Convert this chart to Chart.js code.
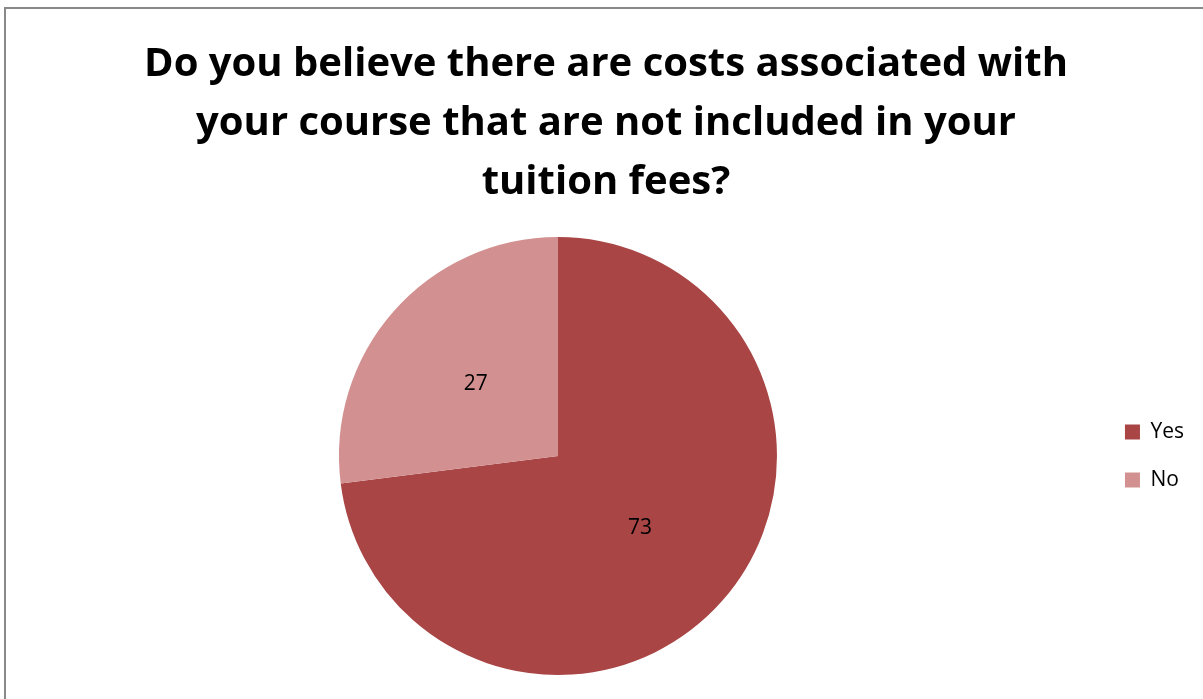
<!DOCTYPE html>
<html>
<head>
<meta charset="utf-8">
<script src="https://cdn.jsdelivr.net/npm/chart.js@4/dist/chart.umd.min.js"></script>
<style>
html,body{margin:0;padding:0;background:#fff;overflow:hidden;}
#wrap{position:absolute;left:0;top:0;width:1203px;height:699px;}
#frame{position:absolute;left:4px;top:7px;width:1300px;height:800px;border-left:2px solid #898989;border-top:2px solid #898989;pointer-events:none;}
</style>
</head>
<body>
<div id="wrap"><canvas id="c" width="1203" height="699"></canvas></div>
<div id="frame"></div>
<script>
const categories = ["Yes", "No"];
const values = [73, 27];
const colors = ["#A94545", "#D29090"];
const titleLines = [
  "Do you believe there are costs associated with",
  "your course that are not included in your",
  "tuition fees?"
];

const labelPlugin = {
  id: 'sliceLabels',
  afterDatasetsDraw(chart) {
    const ctx = chart.ctx;
    const meta = chart.getDatasetMeta(0);
    ctx.save();
    ctx.font = '21px "Open Sans", sans-serif';
    ctx.fillStyle = '#000';
    ctx.textAlign = 'center';
    ctx.textBaseline = 'middle';
    meta.data.forEach((arc, i) => {
      const p = arc.getCenterPoint();
      ctx.fillText(String(chart.data.datasets[0].data[i]), p.x, p.y);
    });
    ctx.restore();
  }
};

new Chart(document.getElementById('c'), {
  type: 'pie',
  data: {
    labels: categories,
    datasets: [{ data: values, backgroundColor: colors, borderWidth: 0 }]
  },
  options: {
    responsive: false,
    animation: false,
    layout: { padding: { left: 18, right: 9, top: 0, bottom: 24 } },
    plugins: {
      tooltip: { enabled: false },
      title: {
        display: true,
        text: titleLines,
        color: '#000',
        font: { family: '"Open Sans", sans-serif', size: 40, weight: 'bold', lineHeight: 1.475 },
        padding: { top: 35, bottom: 25 }
      },
      legend: {
        position: 'right',
        fullSize: false,
        labels: {
          boxWidth: 15, boxHeight: 15, padding: 27, color: '#000',
          font: { family: '"Open Sans", sans-serif', size: 21 }
        }
      }
    }
  },
  plugins: [labelPlugin]
});
</script>
</body>
</html>
